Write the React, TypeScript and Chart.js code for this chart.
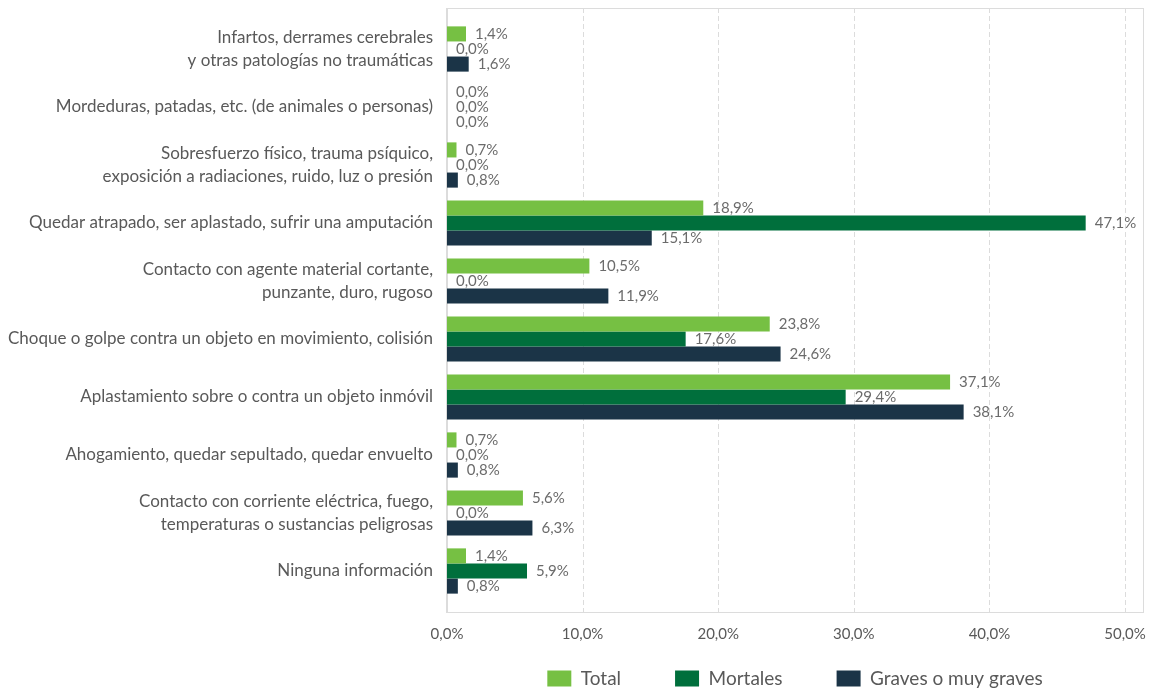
import React, { useEffect, useRef } from 'react';
import { Chart, registerables } from 'chart.js';

Chart.register(...registerables);

const categories: (string | string[])[] = [
  ['Infartos, derrames cerebrales', 'y otras patologías no traumáticas'],
  'Mordeduras, patadas, etc. (de animales o personas)',
  ['Sobresfuerzo físico, trauma psíquico,', 'exposición a radiaciones, ruido, luz o presión'],
  'Quedar atrapado, ser aplastado, sufrir una amputación',
  ['Contacto con agente material cortante,', 'punzante, duro, rugoso'],
  'Choque o golpe contra un objeto en movimiento, colisión',
  'Aplastamiento sobre o contra un objeto inmóvil',
  'Ahogamiento, quedar sepultado, quedar envuelto',
  ['Contacto con corriente eléctrica, fuego,', 'temperaturas o sustancias peligrosas'],
  'Ninguna información',
];

const seriesNames = ['Total', 'Mortales', 'Graves o muy graves'];
const totalValues = [1.4, 0.0, 0.7, 18.9, 10.5, 23.8, 37.1, 0.7, 5.6, 1.4];
const mortalesValues = [0.0, 0.0, 0.0, 47.1, 0.0, 17.6, 29.4, 0.0, 0.0, 5.9];
const gravesValues = [1.6, 0.0, 0.8, 15.1, 11.9, 24.6, 38.1, 0.8, 6.3, 0.8];
const xTickMin = 0;
const xTickMax = 50;
const xTickStep = 10;

const COLORS = ['#76c043', '#006f3c', '#1b3447'];
const FONT = 'Lato, "Open Sans", sans-serif';
const TEXT = '#595959';

const fmt = (v: number) => v.toFixed(1).replace('.', ',') + '%';

const FRAME_PAD_V = 12;
const FRAME_PAD_R = 18;

const framePlugin = {
  id: 'frame',
  afterLayout(chart: any) {
    if (chart.legend) chart.legend.right += FRAME_PAD_R;
  },
  beforeDatasetsDraw(chart: any) {
    const { ctx, chartArea, scales } = chart;
    const x = scales.x;
    const top = chartArea.top - FRAME_PAD_V;
    const bottom = chartArea.bottom + FRAME_PAD_V;
    const left = chartArea.left;
    const right = chartArea.right + FRAME_PAD_R;
    ctx.save();
    ctx.strokeStyle = '#dcdcdc';
    ctx.lineWidth = 1;
    ctx.setLineDash([5, 3]);
    x.ticks.forEach((t: any) => {
      if (t.value === xTickMin) return;
      const px = Math.round(x.getPixelForValue(t.value)) + 0.5;
      ctx.beginPath();
      ctx.moveTo(px, top);
      ctx.lineTo(px, bottom);
      ctx.stroke();
    });
    ctx.setLineDash([]);
    ctx.strokeRect(Math.round(left) + 0.5, Math.round(top) + 0.5, Math.round(right - left), Math.round(bottom - top));
    ctx.lineWidth = 2;
    ctx.beginPath();
    ctx.moveTo(Math.round(left), top);
    ctx.lineTo(Math.round(left), bottom + 1);
    ctx.stroke();
    ctx.restore();
  },
};

const labelPlugin = {
  id: 'valueLabels',
  afterDatasetsDraw(chart: any) {
    const { ctx } = chart;
    ctx.save();
    ctx.font = `15px ${FONT}`;
    ctx.fillStyle = '#6b6b6b';
    ctx.textAlign = 'left';
    ctx.textBaseline = 'middle';
    chart.data.datasets.forEach((ds: any, di: number) => {
      const meta = chart.getDatasetMeta(di);
      meta.data.forEach((bar: any, i: number) => {
        ctx.fillText(fmt(ds.data[i]), bar.x + 9, bar.y);
      });
    });
    ctx.restore();
  },
};

export default function App() {
  const ref = useRef<HTMLCanvasElement>(null);

  useEffect(() => {
    document.body.style.margin = '0';
    document.body.style.overflow = 'hidden';
    const chart = new Chart(ref.current as HTMLCanvasElement, {
      type: 'bar',
      data: {
        labels: categories,
        datasets: [totalValues, mortalesValues, gravesValues].map((d, i) => ({
          label: seriesNames[i],
          data: d,
          backgroundColor: COLORS[i],
          borderWidth: 0,
          categoryPercentage: 0.78,
          barPercentage: 1.0,
        })),
      },
      options: {
        indexAxis: 'y',
        animation: false,
        responsive: true,
        maintainAspectRatio: false,
        layout: { padding: { top: 20, right: 29, left: 0, bottom: 0 } },
        scales: {
          x: {
            min: xTickMin,
            max: xTickMax,
            grid: { display: false, drawTicks: false },
            border: { display: false },
            ticks: {
              stepSize: xTickStep,
              mirror: true,
              padding: -43,
              color: TEXT,
              font: { family: FONT, size: 15 },
              callback: (v: any) => fmt(Number(v)),
            },
            afterFit: (s: any) => {
              s.height = 15;
              s.paddingLeft = 0;
              s.paddingRight = 0;
            },
          },
          y: {
            grid: { display: false, drawTicks: false },
            border: { display: false },
            ticks: {
              padding: 14,
              color: TEXT,
              font: { family: FONT, size: 17, lineHeight: 1.3 },
            },
            afterFit: (s: any) => {
              s.width = 447;
              s.paddingTop = 0;
              s.paddingBottom = 0;
            },
          },
        },
        plugins: {
          legend: {
            position: 'bottom',
            fullSize: false,
            labels: {
              boxWidth: 24,
              boxHeight: 16,
              padding: 54,
              color: TEXT,
              font: { family: FONT, size: 19 },
            },
          },
          tooltip: { enabled: false },
        },
      },
      plugins: [framePlugin, labelPlugin],
    });
    return () => chart.destroy();
  }, []);

  return (
    <div style={{ width: 1154, height: 698, position: 'relative' }}>
      <canvas ref={ref} />
    </div>
  );
}
